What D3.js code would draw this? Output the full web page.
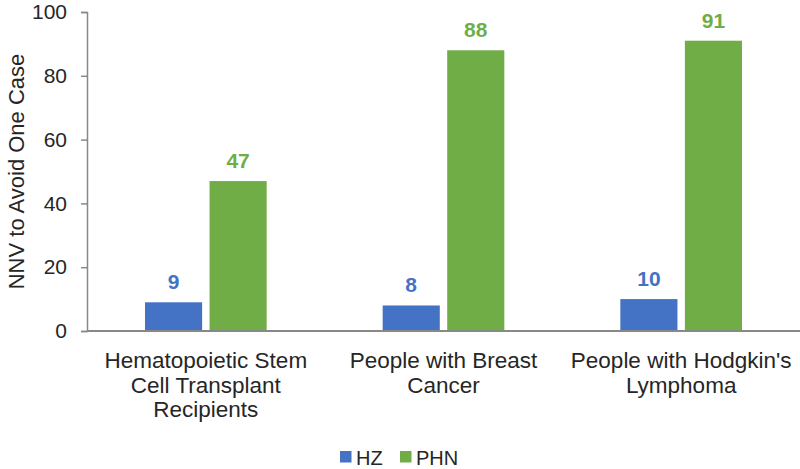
<!DOCTYPE html>
<html>
<head>
<meta charset="utf-8">
<script src="https://cdn.jsdelivr.net/npm/d3@7"></script>
<style>
  body { margin: 0; background: #fff; }
  text { font-family: Arial, "Liberation Sans", sans-serif; }
</style>
</head>
<body>
<div id="chart"></div>
<script>
var categories = [
    ["Hematopoietic Stem", "Cell Transplant", "Recipients"],
    ["People with Breast", "Cancer"],
    ["People with Hodgkin's", "Lymphoma"]
]
var seriesNames = ["HZ", "PHN"]
var hzValues = [9, 8, 10]
var phnValues = [47, 88, 91]
var yTicks = [0, 20, 40, 60, 80, 100]

var colors = {"HZ": "#4472C4", "PHN": "#70AD47"}

var width = 800, height = 469
var margin = {top: 12, right: 0, bottom: 138, left: 87}

var svg = d3.select("#chart").append("svg")
    .attr("width", width)
    .attr("height", height)

var x0 = d3.scaleBand()
    .domain(d3.range(categories.length))
    .range([margin.left, width - margin.right])

var x1 = d3.scaleBand()
    .domain(seriesNames)
    .range([58, x0.bandwidth() - 58])
    .paddingInner(0.115)

var y = d3.scaleLinear()
    .domain([0, 100])
    .range([height - margin.bottom, margin.top])

var data = categories.map((c, i) => {
    return {cat: i, values: [{key: "HZ", value: hzValues[i]}, {key: "PHN", value: phnValues[i]}]}
})

// bars
var groups = svg.append("g").selectAll("g")
    .data(data)
    .enter().append("g")
    .attr("transform", (d) => "translate(" + x0(d.cat) + ",0)")

groups.selectAll("rect")
    .data((d) => d.values)
    .enter().append("rect")
    .attr("x", (d) => x1(d.key))
    .attr("width", x1.bandwidth())
    .attr("y", (d) => y(d.value))
    .attr("height", (d) => y(0) - y(d.value))
    .attr("fill", (d) => colors[d.key])

groups.selectAll("text.val")
    .data((d) => d.values)
    .enter().append("text")
    .attr("class", "val")
    .attr("x", (d) => x1(d.key) + x1.bandwidth() / 2)
    .attr("y", (d) => y(d.value) - 13)
    .attr("text-anchor", "middle")
    .attr("font-size", "21px")
    .attr("font-weight", "bold")
    .attr("fill", (d) => colors[d.key])
    .text((d) => d.value)

// y axis
var yAxis = svg.append("g")
    .attr("transform", "translate(" + margin.left + ",0)")
    .call(d3.axisLeft(y).tickValues(yTicks).tickSize(6).tickPadding(14))
yAxis.select(".domain").attr("stroke", "#888").attr("stroke-width", 1.5)
yAxis.selectAll(".tick line").attr("stroke", "#888").attr("stroke-width", 1.5)
yAxis.selectAll(".tick text")
    .attr("font-size", "21px")
    .attr("fill", "#262626")
    .attr("font-family", "Arial, 'Liberation Sans', sans-serif")

// x baseline
svg.append("line")
    .attr("x1", margin.left)
    .attr("x2", width - margin.right)
    .attr("y1", y(0))
    .attr("y2", y(0))
    .attr("stroke", "#888")
    .attr("stroke-width", 2)

// category labels
svg.append("g").selectAll("text")
    .data(categories)
    .enter().append("text")
    .attr("text-anchor", "middle")
    .attr("font-size", "22.5px")
    .attr("fill", "#262626")
    .each(function(d, i) {
        var t = d3.select(this)
        d.forEach((line, j) => {
            t.append("tspan")
                .attr("x", x0(i) + x0.bandwidth() / 2)
                .attr("y", y(0) + 37 + j * 24.5)
                .text(line)
        })
    })

// y axis title
svg.append("text")
    .attr("transform", "translate(24," + ((margin.top + y(0)) / 2) + ") rotate(-90)")
    .attr("text-anchor", "middle")
    .attr("font-size", "22px")
    .attr("fill", "#262626")
    .text("NNV to Avoid One Case")

// legend
var legend = svg.append("g")
    .selectAll("g")
    .data(seriesNames)
    .enter().append("g")
    .attr("transform", (d, i) => "translate(" + (340 + i * 60) + ",451)")

legend.append("rect")
    .attr("width", 11.5)
    .attr("height", 11.5)
    .attr("fill", (d) => colors[d])

legend.append("text")
    .attr("x", 16)
    .attr("y", 13.5)
    .attr("font-size", "20px")
    .attr("fill", "#262626")
    .text((d) => d)
</script>
</body>
</html>
